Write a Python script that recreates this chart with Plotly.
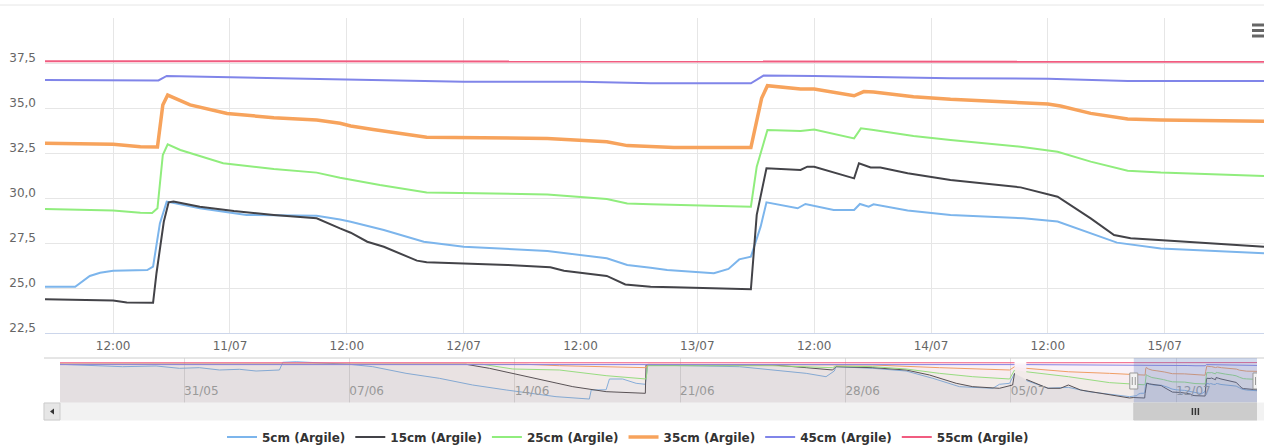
import pandas as pd
import plotly.graph_objects as go

names = ["5cm (Argile)", "15cm (Argile)", "25cm (Argile)", "35cm (Argile)", "45cm (Argile)", "55cm (Argile)"]
colors = ["#7cb5ec", "#434348", "#90ed7d", "#f7a35c", "#8085e9", "#f15c80"]
fills = ["rgba(124,181,236,0.05)", "rgba(67,67,72,0.05)", "rgba(144,237,125,0.05)",
         "rgba(247,163,92,0.05)", "rgba(128,133,233,0.05)", "rgba(241,92,128,0.05)"]

# zoomed window: hours after 10/07 00:00
h_5cm = [5.0, 8.1, 9.6, 10.66, 12.0, 15.5, 16.1, 16.8, 17.5, 20.9, 25.7, 32.9, 35.3, 36.4, 39.8, 43.9, 48.0,
         56.6, 62.7, 64.8, 67.2, 68.9, 73.7, 75.2, 76.3, 77.5, 78.5, 79.1, 82.3, 83.1, 86.0, 88.1, 88.7, 89.6,
         90.1, 93.6, 98.0, 105.5, 109.0, 112.4, 115.1, 119.6, 125.0, 130.2]
v_5cm = [25.07, 25.07, 25.67, 25.85, 25.96, 26.0, 26.19, 28.59, 29.8, 29.43, 29.06, 29.02, 28.81, 28.68, 28.22,
         27.57, 27.29, 27.06, 26.65, 26.28, 26.13, 26.0, 25.82, 26.06, 26.59, 26.74, 28.41, 29.76, 29.43, 29.67,
         29.33, 29.33, 29.67, 29.52, 29.65, 29.3, 29.06, 28.87, 28.69, 28.04, 27.52, 27.2, 27.06, 26.93]

h_15cm = [5.0, 12.0, 13.4, 16.1, 16.45, 17.2, 17.7, 18.2, 20.9, 24.4, 28.5, 32.9, 35.3, 36.4, 38.1, 39.8, 43.2,
          44.2, 52.5, 56.9, 58.3, 62.7, 64.6, 67.2, 69.6, 77.5, 78.1, 79.1, 82.6, 83.3, 84.0, 86.0, 88.1, 88.6,
          89.8, 90.8, 93.6, 98.0, 105.2, 109.0, 112.4, 114.8, 116.5, 121.0, 130.2]
v_15cm = [24.37, 24.3, 24.2, 24.18, 25.82, 28.68, 29.76, 29.8, 29.52, 29.28, 29.06, 28.87, 28.31, 28.07, 27.57,
          27.29, 26.52, 26.43, 26.28, 26.15, 25.96, 25.67, 25.2, 25.07, 25.04, 24.93, 29.06, 31.65, 31.56, 31.74,
          31.74, 31.41, 31.09, 31.93, 31.7, 31.69, 31.37, 31.0, 30.59, 30.07, 28.87, 27.94, 27.76, 27.61, 27.29]

h_25cm = [5.0, 12.0, 14.8, 16.0, 16.55, 17.1, 17.6, 18.9, 23.3, 28.5, 32.9, 35.3, 39.4, 44.2, 56.6, 62.7, 64.8,
          67.2, 77.5, 78.1, 79.2, 82.6, 84.0, 88.1, 88.8, 90.1, 94.2, 98.0, 105.2, 109.0, 112.4, 116.2, 119.6, 130.2]
v_25cm = [29.39, 29.3, 29.18, 29.17, 29.43, 32.39, 32.98, 32.67, 31.93, 31.61, 31.41, 31.13, 30.72, 30.3, 30.2,
          29.94, 29.7, 29.65, 29.52, 31.74, 33.78, 33.72, 33.81, 33.31, 33.87, 33.78, 33.44, 33.22, 32.85, 32.57,
          32.02, 31.52, 31.41, 31.22]

h_35cm = [5.0, 12.0, 14.8, 16.55, 17.1, 17.6, 19.9, 23.7, 28.5, 32.9, 35.3, 36.4, 38.7, 44.2, 56.6, 62.7, 64.8,
          67.2, 69.6, 77.5, 78.0, 78.6, 79.2, 82.6, 84.0, 88.1, 89.1, 90.1, 94.2, 98.0, 108.0, 109.3, 112.4, 116.2,
          119.6, 130.2]
v_35cm = [33.04, 32.98, 32.85, 32.84, 35.17, 35.72, 35.17, 34.7, 34.46, 34.33, 34.15, 34.0, 33.81, 33.37, 33.31,
          33.13, 32.91, 32.85, 32.8, 32.8, 34.15, 35.54, 36.24, 36.06, 36.06, 35.68, 35.91, 35.89, 35.63, 35.48,
          35.22, 35.11, 34.7, 34.39, 34.33, 34.26]

h_45cm = [5.0, 16.65, 17.5, 36.4, 48.0, 60.0, 67.2, 77.5, 78.8, 84.0, 98.0, 108.0, 116.2, 130.2]
v_45cm = [36.56, 36.53, 36.78, 36.59, 36.46, 36.46, 36.37, 36.37, 36.8, 36.78, 36.65, 36.63, 36.5, 36.5]

h_55cm = [5.0, 60.0, 130.2]
v_55cm = [37.6, 37.59, 37.57]

# navigator history: days after 31/05 00:00 (None = logger gap)
d_nav_5cm = [-5.25, -4.0, -2.6, -1.18, -0.19, 0.65, 1.5, 2.35, 3.05, 4.04, 4.18, 4.75, 5.87, 7.0, 7.99, 9.4,
             10.81, 12.22, 13.64, 15.05, 15.75, 17.16, 17.24, 17.87, 18.01, 18.57, 19.14, 19.53, 19.63, 23.52,
             24.92, 26.34, 27.18, 27.53, 27.6, 29.16, 30.57, 31.7, 32.83, 33.39, 34.24, 34.52, 34.95, 35.16, 35.4,
             35.66, 36.58, 37.44, 38.29, 40.03]
v_nav_5cm = [36.92, 36.39, 36.02, 36.28, 35.4, 35.65, 34.77, 35.03, 34.39, 34.77, 37.67, 37.9, 37.29, 36.92, 36.02,
             33.51, 31.63, 29.1, 27.22, 25.6, 24.69, 23.8, 27.22, 27.3, 31.37, 31.37, 29.74, 29.36, 36.65, 36.02,
             34.77, 33.51, 32.24, 34.39, 36.02, 35.4, 34.39, 31.63, 28.47, 28.3, 27.85, 29.36, 29.74, 33.51, None,
             30.8, 27.9, 28.2, 26.58, 24.7]
d_nav_15cm = [-5.25, 11.94, 12.93, 13.92, 15.05, 15.89, 16.46, 17.87, 19.53, 19.56, 24.92, 26.34, 27.46, 27.6,
              29.16, 30.57, 31.56, 32.69, 33.39, 34.52, 35.08, 35.16, 35.4, 35.66, 36.58, 37.1, 37.44, 37.96, 39.17,
              40.03]
v_nav_15cm = [36.92, 36.92, 35.4, 33.5, 31.4, 29.5, 28.47, 26.58, 25.96, 36.65, 36.65, 35.65, 34.77, 36.02, 35.65,
              34.77, 32.88, 29.74, 28.47, 27.85, 29.1, 33.51, None, 31.2, 27.85, 27.85, 29.1, 27.2, 25.3, 24.2]
d_nav_25cm = [-5.25, 12.63, 13.92, 15.89, 17.87, 19.56, 19.63, 24.92, 27.46, 27.6, 29.16, 30.57, 31.98, 33.39,
              34.95, 35.16, 35.4, 35.66, 37.44, 39.18, 40.03]
v_nav_25cm = [36.92, 36.92, 35.15, 34.77, 32.63, 31.37, 36.39, 36.39, 35.65, 36.28, 36.02, 35.15, 33.51, 32.24,
              31.37, 34.77, None, 34.1, 32.24, 30.0, 29.4]
d_nav_35cm = [-5.25, 14.5, 15.89, 19.56, 19.63, 29.16, 31.98, 34.95, 35.16, 35.4, 35.66, 37.44, 39.18, 40.03]
v_nav_35cm = [36.92, 36.92, 36.39, 35.65, 36.92, 36.65, 35.65, 34.77, 36.0, None, 35.4, 34.1, 33.5, 33.2]
d_nav_45cm = [-5.25, 35.16, 35.4, 35.66, 40.03]
v_nav_45cm = [36.8, 36.8, None, 36.8, 36.6]
d_nav_55cm = [-5.25, 35.16, 35.4, 35.66, 40.03]
v_nav_55cm = [37.5, 37.5, None, 37.5, 37.55]

main_ticks = ["2021-07-10 12:00", "2021-07-11", "2021-07-11 12:00", "2021-07-12", "2021-07-12 12:00",
              "2021-07-13", "2021-07-13 12:00", "2021-07-14", "2021-07-14 12:00", "2021-07-15"]
main_tick_labels = ["12:00", "11/07", "12:00", "12/07", "12:00", "13/07", "12:00", "14/07", "12:00", "15/07"]
nav_ticks = ["2021-05-31", "2021-06-07", "2021-06-14", "2021-06-21", "2021-06-28", "2021-07-05", "2021-07-12"]
nav_tick_labels = ["31/05", "07/06", "14/06", "21/06", "28/06", "05/07", "12/07"]
y_ticks = [22.5, 25.0, 27.5, 30.0, 32.5, 35.0, 37.5, 40.0]
y_tick_labels = ["22,5", "25,0", "27,5", "30,0", "32,5", "35,0", "37,5", ""]

main_hours = [h_5cm, h_15cm, h_25cm, h_35cm, h_45cm, h_55cm]
main_vals = [v_5cm, v_15cm, v_25cm, v_35cm, v_45cm, v_55cm]
nav_days = [d_nav_5cm, d_nav_15cm, d_nav_25cm, d_nav_35cm, d_nav_45cm, d_nav_55cm]
nav_vals = [v_nav_5cm, v_nav_15cm, v_nav_25cm, v_nav_35cm, v_nav_45cm, v_nav_55cm]
widths = [2, 2, 2, 3.5, 2, 2]

base_main = pd.Timestamp("2021-07-10")
base_nav = pd.Timestamp("2021-05-31")

W, H = 1264, 445
ml, mr, mt, mb = 45, 0, 18, 42


def px_x(p):
    return (p - ml) / (W - ml - mr)


def px_y(p):
    return (H - mb - p) / (H - mt - mb)


FONT = "DejaVu Sans"
fig = go.Figure()

t_start = None
t_end = None
for i in range(6):
    t = list(base_main + pd.to_timedelta(main_hours[i], unit="h"))
    t_start = t[0] if t_start is None else min(t_start, t[0])
    t_end = t[-1] if t_end is None else max(t_end, t[-1])
    fig.add_trace(go.Scatter(x=t, y=main_vals[i], mode="lines", name=names[i],
                             line=dict(color=colors[i], width=widths[i]),
                             xaxis="x", yaxis="y"))

nav_start = None
for i in range(6):
    tn = list(base_nav + pd.to_timedelta(nav_days[i], unit="D"))
    tm = list(base_main + pd.to_timedelta(main_hours[i], unit="h"))
    nav_start = tn[0] if nav_start is None else min(nav_start, tn[0])
    fig.add_trace(go.Scatter(x=tn + tm, y=nav_vals[i] + main_vals[i], mode="lines",
                             line=dict(color=colors[i], width=1), fill="tozeroy", fillcolor=fills[i],
                             connectgaps=False, showlegend=False, hoverinfo="skip",
                             xaxis="x2", yaxis="y2"))

t_mid = t_start + (t_end - t_start) / 2

shapes = [
    # page separator above the chart
    dict(type="line", xref="paper", yref="paper", x0=px_x(0), x1=px_x(W), y0=px_y(5), y1=px_y(5),
         line=dict(color="#e6e6e6", width=1)),
    # navigator outline
    dict(type="line", xref="paper", yref="paper", x0=px_x(44), x1=px_x(W), y0=px_y(358), y1=px_y(358),
         line=dict(color="#cccccc", width=1)),
    # selected range mask
    dict(type="rect", xref="x2", yref="paper", x0=t_start, x1=t_end, y0=0, y1=px_y(358),
         fillcolor="rgba(102,133,194,0.3)", line=dict(width=0), layer="above"),
    # scrollbar track
    dict(type="rect", xref="paper", yref="paper", x0=px_x(44), x1=px_x(W), y0=px_y(420), y1=px_y(403),
         fillcolor="#f2f2f2", line=dict(color="#f2f2f2", width=1)),
    dict(type="rect", xref="paper", yref="paper", x0=px_x(44), x1=px_x(60), y0=px_y(420), y1=px_y(403),
         fillcolor="#e6e6e6", line=dict(color="#cccccc", width=1)),
    dict(type="path", xref="paper", yref="paper",
         path="M %f %f L %f %f L %f %f Z" % (px_x(50), px_y(411.5), px_x(54), px_y(408.5), px_x(54), px_y(414.5)),
         fillcolor="#333333", line=dict(width=0)),
    # scrollbar thumb
    dict(type="rect", xref="x2", yref="paper", x0=t_start, x1=t_end, y0=px_y(420), y1=px_y(403),
         fillcolor="#cccccc", line=dict(color="#cccccc", width=1)),
]
# scrollbar rifles
for off in (-3, 0, 3):
    shapes.append(dict(type="line", xref="x2", yref="paper", xsizemode="pixel", xanchor=t_mid,
                       x0=off, x1=off, y0=px_y(415), y1=px_y(408),
                       line=dict(color="#333333", width=1.5)))
# navigator handles
for anchor in (t_start, t_end):
    shapes.append(dict(type="rect", xref="x2", yref="paper", xsizemode="pixel", xanchor=anchor,
                       x0=-4, x1=4, y0=px_y(389), y1=px_y(373),
                       fillcolor="#f2f2f2", line=dict(color="#999999", width=1), layer="above"))
    for off in (-1.5, 1.5):
        shapes.append(dict(type="line", xref="x2", yref="paper", xsizemode="pixel", xanchor=anchor,
                           x0=off, x1=off, y0=px_y(385), y1=px_y(377),
                           line=dict(color="#999999", width=1), layer="above"))
# export menu icon
for yy in (25, 30.5, 36):
    shapes.append(dict(type="line", xref="paper", yref="paper", x0=px_x(1252), x1=px_x(1266),
                       y0=px_y(yy), y1=px_y(yy), line=dict(color="#666666", width=3)))

fig.update_layout(
    width=W, height=H,
    margin=dict(l=ml, r=mr, t=mt, b=mb, autoexpand=False),
    paper_bgcolor="white", plot_bgcolor="white",
    font=dict(family=FONT, size=12, color="#666666"),
    xaxis=dict(domain=[0, 1], anchor="y", type="date", range=[t_start, t_end],
               tickvals=main_ticks, ticktext=main_tick_labels, showgrid=True, gridcolor="#e6e6e6",
               showline=True, linecolor="#ccd6eb", linewidth=1, ticks="", zeroline=False,
               tickfont=dict(family=FONT, size=12, color="#666666"), ticklabelstandoff=2),
    yaxis=dict(domain=[px_y(333), 1], anchor="x", range=[22.5, 40], tickvals=y_ticks, ticktext=y_tick_labels,
               showgrid=True, gridcolor="#e6e6e6", zeroline=False, ticks="", showline=False,
               tickfont=dict(family=FONT, size=12, color="#666666"), ticklabelshift=-5, ticklabelstandoff=8),
    xaxis2=dict(domain=[px_x(60), px_x(1257)], anchor="y2", type="date", range=[nav_start, t_end],
                tickvals=nav_ticks, ticktext=nav_tick_labels, showgrid=True, gridcolor="#e0e0e0",
                ticklabelposition="inside right", ticks="", showline=False, zeroline=False,
                tickfont=dict(family=FONT, size=12, color="#999999")),
    yaxis2=dict(domain=[0, px_y(358)], anchor="x2", range=[22.3, 39.3], visible=False),
    showlegend=True,
    legend=dict(orientation="h", x=px_x(628), xanchor="center", y=px_y(437), yanchor="middle",
                font=dict(family=FONT, size=12, color="#333333", weight="bold"),
                bgcolor="rgba(0,0,0,0)"),
    shapes=shapes,
    hovermode=False,
)

fig.write_html("out.html", config={"displayModeBar": False},
               post_script="document.body.style.margin='0';")
